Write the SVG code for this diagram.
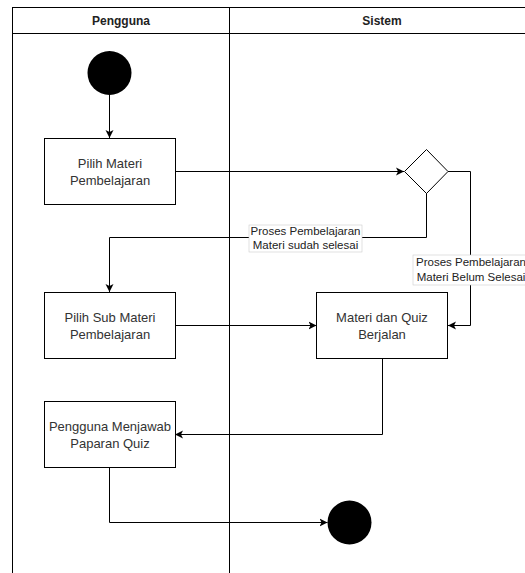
<svg xmlns="http://www.w3.org/2000/svg" width="525" height="573" viewBox="0 0 525 573">
<style>
.lane{fill:none;stroke:#000;stroke-width:1}
.hdr{font-family:"Liberation Sans",Arial,sans-serif;font-size:12px;font-weight:bold;fill:#222;text-anchor:middle}
.box{fill:#fff;stroke:#000;stroke-width:1}
.t{font-family:"Liberation Sans",Arial,sans-serif;font-size:13px;fill:#333;text-anchor:middle}
.lbl{font-family:"Liberation Sans",Arial,sans-serif;font-size:11.5px;fill:#222;text-anchor:middle}
.lblbg{fill:#fff;stroke:#ccc;stroke-width:0.6}
.c{fill:none;stroke:#000;stroke-width:1}
.ca{fill:none;stroke:#000;stroke-width:1;marker-end:url(#arr)}
</style>
<defs>
<marker id="arr" markerUnits="userSpaceOnUse" markerWidth="10" markerHeight="10" refX="8" refY="4" orient="auto" viewBox="0 0 10 8">
<path d="M0,0 L8,4 L0,8 L2,4 Z" fill="#000"/>
</marker>
</defs>
<rect width="525" height="573" fill="#fff"/>
<g id="swimlanes">
<rect class="lane" x="12.5" y="7.5" width="523" height="580"/>
<line class="lane" x1="12.5" y1="33.5" x2="535.5" y2="33.5"/>
<line class="lane" x1="229.5" y1="7.5" x2="229.5" y2="580"/>
<text class="hdr" x="121" y="24.5">Pengguna</text>
<text class="hdr" x="382" y="24.5">Sistem</text>
</g>
<g id="connectors">
<path class="ca" d="M109.5,95 V138"/>
<path class="ca" d="M175,171.5 H404"/>
<path class="ca" d="M426.5,193 V237.5 H109.5 V292"/>
<path class="ca" d="M448,171.5 H470.5 V325.5 H448"/>
<path class="ca" d="M175,325.5 H316.5"/>
<path class="ca" d="M382.5,358.5 V434.5 H175"/>
<path class="ca" d="M109.5,467.5 V522.5 H327.5"/>
</g>
<g id="label-sudah">
<rect class="lblbg" x="249" y="225" width="113" height="27"/>
<text class="lbl" x="305.5" y="235">Proses Pembelajaran</text>
<text class="lbl" x="305.5" y="249">Materi sudah selesai</text>
</g>
<g id="label-belum">
<rect class="lblbg" x="413" y="255" width="120" height="30"/>
<text class="lbl" x="471" y="266">Proses Pembelajaran</text>
<text class="lbl" x="471" y="281">Materi Belum Selesai</text>
</g>
<g id="start">
<circle cx="109.5" cy="73" r="22" fill="#000"/>
</g>
<g id="pilih-materi">
<rect class="box" x="44.5" y="138.5" width="131" height="66"/>
<text class="t" x="110" y="168">Pilih Materi</text>
<text class="t" x="110" y="185">Pembelajaran</text>
</g>
<g id="decision">
<path d="M426.5,149.5 L448,171.5 L426.5,193.5 L404.5,171.5 Z" fill="#fff" stroke="#000" stroke-width="1"/>
</g>
<g id="pilih-sub">
<rect class="box" x="44.5" y="292.5" width="131" height="66"/>
<text class="t" x="110" y="322">Pilih Sub Materi</text>
<text class="t" x="110" y="339">Pembelajaran</text>
</g>
<g id="materi-quiz">
<rect class="box" x="316.5" y="292.5" width="131" height="66"/>
<text class="t" x="382" y="322">Materi dan Quiz</text>
<text class="t" x="382" y="339">Berjalan</text>
</g>
<g id="menjawab">
<rect class="box" x="44.5" y="401.5" width="131" height="66"/>
<text class="t" x="110" y="431">Pengguna Menjawab</text>
<text class="t" x="110" y="448">Paparan Quiz</text>
</g>
<g id="end">
<circle cx="349.5" cy="522.5" r="22" fill="#000"/>
</g>
</svg>
